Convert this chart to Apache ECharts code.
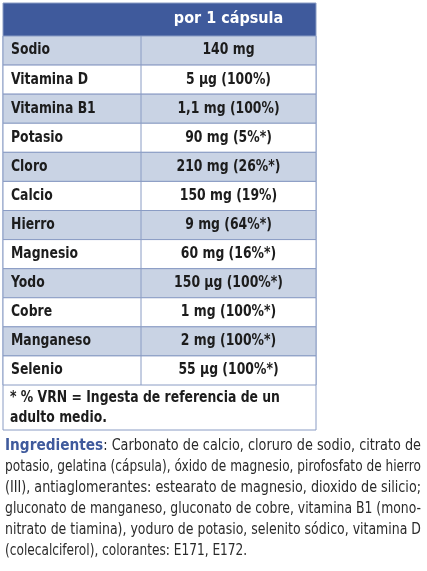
<!DOCTYPE html>
<html><head><meta charset="utf-8">
<script src="https://cdn.jsdelivr.net/npm/echarts@6/dist/echarts.min.js"></script>
<style>html,body{margin:0;padding:0;background:#fff}#c{width:427px;height:571px}</style>
</head><body><div id="c"></div>
<script>
const nutrients = ['Sodio','Vitamina D','Vitamina B1','Potasio','Cloro','Calcio','Hierro','Magnesio','Yodo','Cobre','Manganeso','Selenio'];
const amounts = ['140 mg','5 µg (100%)','1,1 mg (100%)','90 mg (5%*)','210 mg (26%*)','150 mg (19%)','9 mg (64%*)','60 mg (16%*)','150 µg (100%*)','1 mg (100%*)','2 mg (100%*)','55 µg (100%*)'];
const header = 'por 1 cápsula';
const footnote = ['* % VRN = Ingesta de referencia de un','adulto medio.'];
const ingredientLines = [
 'Carbonato de calcio, cloruro de sodio, citrato de',
 'potasio, gelatina (cápsula), óxido de magnesio, pirofosfato de hierro',
 '(III), antiaglomerantes: estearato de magnesio, dioxido de silicio;',
 'gluconato de manganeso, gluconato de cobre, vitamina B1 (mono-',
 'nitrato de tiamina), yoduro de potasio, selenito sódico, vitamina D',
 '(colecalciferol), colorantes: E171, E172.'
];
const F = '"Liberation Sans Narrow","DejaVu Sans Condensed",sans-serif';
const BLUE='#3f5a9c', LIGHT='#c9d3e4', LINE='#8a9cc4', TXT='#1c1c1c';
const W=313, SPLIT=138, TW=416;
const ctx=document.createElement('canvas').getContext('2d');
function mw(t,f){ctx.font=f;return ctx.measureText(t).width;}
const chart = echarts.init(document.getElementById('c'));
const graphics = [
 {type:'rect',shape:{x:3,y:3,width:W,height:33},style:{fill:BLUE}},
 {type:'text',x:3+SPLIT+(W-SPLIT)/2,y:19,style:{text:header,fill:'#fff',font:'bold 16px '+F,align:'center',verticalAlign:'middle'}},
 {type:'rect',shape:{x:3,y:3,width:W,height:427},style:{fill:'none',stroke:LINE,lineWidth:1}},
 {type:'text',x:10,y:398,scaleX:0.92,style:{text:footnote[0],fill:TXT,font:'bold 15px '+F,verticalAlign:'middle'}},
 {type:'text',x:10,y:418,scaleX:0.92,style:{text:footnote[1],fill:TXT,font:'bold 15px '+F,verticalAlign:'middle'}}
];
const scales=ingredientLines.map((l,i)=>{
 const w=(i===0?mw('Ingredientes','bold 16px '+F)+mw(': ','15px '+F):0)+mw(l,'15px '+F);
 return TW/w;
});
ingredientLines.forEach((l,i)=>{
 const s=i===ingredientLines.length-1?scales[1]:scales[i];
 graphics.push({type:'text',x:5,y:446+i*21,scaleX:s,style:{
  text:(i===0?'{b|Ingredientes}{n|: }':'')+'{n|'+l+'}',
  verticalAlign:'middle',
  rich:{b:{font:'bold 16px '+F,fill:BLUE},n:{font:'15px '+F,fill:'#2a2a2a'}}}});
});
chart.setOption({
 animation:false,
 grid:{left:3,top:36,width:W,height:349},
 xAxis:{type:'value',min:0,max:W,show:false},
 yAxis:{type:'category',data:nutrients,inverse:true,show:false},
 graphic:graphics,
 series:[{type:'custom',data:nutrients.map((n,i)=>[0,i]),
  renderItem:(params,api)=>{
   const i=api.value(1);
   const p=api.coord([0,i]);const h=api.size([0,1])[1];
   const x0=p[0], y0=p[1]-h/2;
   return {type:'group',children:[
    {type:'rect',shape:{x:x0,y:y0,width:W,height:h},style:{fill:i%2===0?LIGHT:'#fff',stroke:LINE,lineWidth:1}},
    {type:'line',shape:{x1:x0+SPLIT,y1:y0,x2:x0+SPLIT,y2:y0+h},style:{stroke:LINE,lineWidth:1}},
    {type:'text',x:x0+8,y:p[1],scaleX:0.92,style:{text:nutrients[i],fill:TXT,font:'bold 15px '+F,verticalAlign:'middle'}},
    {type:'text',x:x0+SPLIT+(W-SPLIT)/2,y:p[1],scaleX:0.92,style:{text:amounts[i],fill:TXT,font:'bold 15px '+F,align:'center',verticalAlign:'middle'}}
   ]};
  }}]
});
</script></body></html>
